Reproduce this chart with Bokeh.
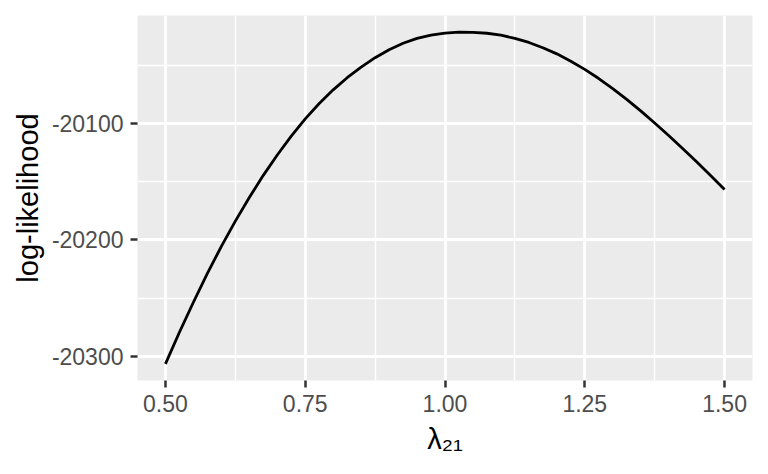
from bokeh.plotting import figure
from bokeh.models import FixedTicker, Range1d
from bokeh.embed import file_html
from bokeh.resources import INLINE

# Data
lam = [0.500, 0.525, 0.550, 0.575, 0.600, 0.625, 0.650, 0.675, 0.700, 0.725,
       0.750, 0.775, 0.800, 0.825, 0.850, 0.875, 0.900, 0.925, 0.950, 0.975,
       1.000, 1.025, 1.050, 1.075, 1.100, 1.125, 1.150, 1.175, 1.200, 1.225,
       1.250, 1.275, 1.300, 1.325, 1.350, 1.375, 1.400, 1.425, 1.450, 1.475,
       1.500]
loglik = [-20306.5, -20279.3, -20253.5, -20228.8, -20205.5, -20183.8, -20163.5,
          -20144.5, -20127.0, -20110.8, -20096.0, -20082.8, -20071.0, -20060.6,
          -20051.5, -20043.4, -20036.5, -20031.0, -20026.8, -20024.0, -20022.3,
          -20021.4, -20021.6, -20022.4, -20024.1, -20026.8, -20030.3, -20034.8,
          -20040.1, -20046.4, -20053.4, -20061.3, -20069.9, -20079.2, -20089.1,
          -20099.5, -20110.3, -20121.4, -20132.9, -20144.7, -20156.7]

x_ticks = [0.50, 0.75, 1.00, 1.25, 1.50]
x_tick_labels = ["0.50", "0.75", "1.00", "1.25", "1.50"]
x_minor = [0.625, 0.875, 1.125, 1.375]
y_ticks = [-20300, -20200, -20100]
y_tick_labels = ["-20300", "-20200", "-20100"]
y_minor = [-20250, -20150, -20050]

x_title = "λ₂₁"
y_title = "log-likelihood"

xpad = 0.05 * (max(lam) - min(lam))
ypad = 0.05 * (max(loglik) - min(loglik))

FONT = "Liberation Sans"

p = figure(width=768, height=474, output_backend="svg", toolbar_location=None,
           x_range=Range1d(min(lam) - xpad, max(lam) + xpad),
           y_range=Range1d(min(loglik) - ypad, max(loglik) + ypad),
           min_border_left=137, min_border_right=16, min_border_top=15,
           min_border_bottom=94,
           background_fill_color="#EBEBEB", border_fill_color="white",
           outline_line_color=None)

p.line(lam, loglik, line_color="black", line_width=2.8, line_join="round")

xt = FixedTicker(ticks=x_ticks, minor_ticks=x_minor)
yt = FixedTicker(ticks=y_ticks, minor_ticks=y_minor)
p.xaxis.ticker = xt
p.yaxis.ticker = yt
p.xgrid.ticker = xt
p.ygrid.ticker = yt
p.xaxis.major_label_overrides = {t: s for t, s in zip(x_ticks, x_tick_labels)}
p.yaxis.major_label_overrides = {t: s for t, s in zip(y_ticks, y_tick_labels)}

for g in (p.xgrid, p.ygrid):
    g.grid_line_color = "white"
    g.grid_line_width = 2.8
    g.minor_grid_line_color = "white"
    g.minor_grid_line_width = 1.4

for ax in (p.xaxis, p.yaxis):
    ax.axis_line_color = None
    ax.minor_tick_line_color = None
    ax.major_tick_line_color = "#333333"
    ax.major_tick_line_width = 2.5
    ax.major_tick_out = 7
    ax.major_tick_in = 0
    ax.major_label_text_font = FONT
    ax.major_label_text_font_size = "23px"
    ax.major_label_text_color = "#4D4D4D"
    ax.axis_label_text_font = FONT
    ax.axis_label_text_font_size = "29px"
    ax.axis_label_text_font_style = "normal"
    ax.axis_label_text_color = "black"

p.xaxis.axis_label = x_title
p.yaxis.axis_label = y_title
p.xaxis.major_label_standoff = 7
p.yaxis.major_label_standoff = 7
p.xaxis.axis_label_standoff = 8
p.yaxis.axis_label_standoff = 5

open("out.html", "w").write(file_html(p, INLINE))
